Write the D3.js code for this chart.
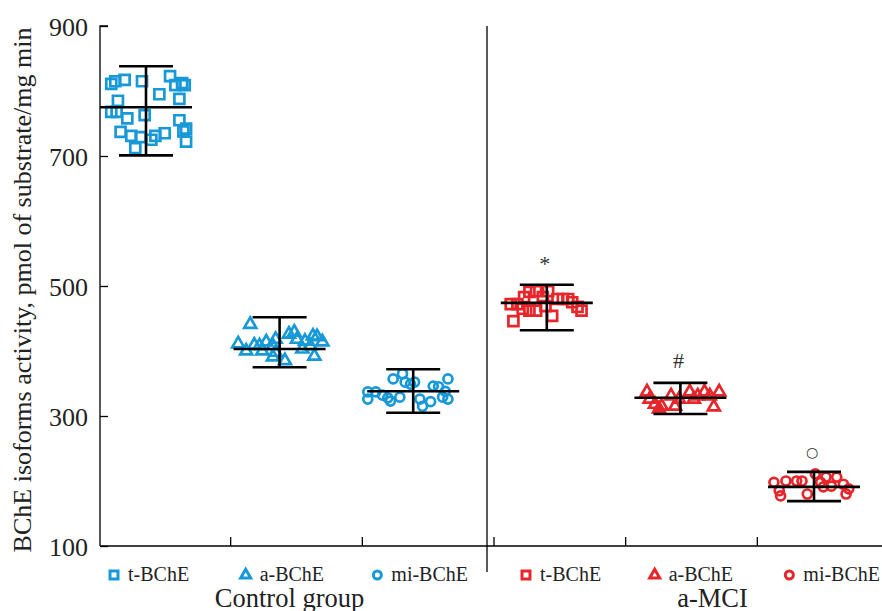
<!DOCTYPE html>
<html><head><meta charset="utf-8">
<script src="https://cdn.jsdelivr.net/npm/d3@7"></script>
<style>body{margin:0;background:#fff}svg{display:block}</style>
</head><body>
<script>
// ---- data ----
const categories = ["t-BChE","a-BChE","mi-BChE","t-BChE","a-BChE","mi-BChE"];
const panels = ["Control group","a-MCI"];
const panelOf = [0,0,0,1,1,1];
const shapes = ["square","triangle","circle","square","triangle","circle"];
const yTicks = [100,300,500,700,900];
const means = [775,403,338,474,328,191];
const errLower = [701,375,305,432,303,169];
const errUpper = [838,452,372,502,351,214];
const annotations = ["","","","*","#","○"];
const annotationValues = [null,null,null,543,386,245];

const ctrlT = [811,815,817,815,823,809,812,809,795,788,785,768,768,758,763,755,742,738,737,731,729,731,735,725,722,712];
const ctrlTJit = [-0.26,-0.23,-0.16,-0.03,0.18,0.22,0.27,0.29,0.10,0.25,-0.21,-0.26,-0.22,-0.14,-0.01,0.25,0.30,0.28,-0.19,-0.11,-0.04,0.07,0.14,0.04,0.30,-0.08];
const ctrlA = [441,411,409,408,414,408,418,426,429,418,415,423,422,414,392,391,385,400,403,400,398,408];
const ctrlAJit = [-0.22,-0.31,-0.19,-0.15,-0.10,-0.05,-0.03,0.07,0.11,0.13,0.19,0.25,0.28,0.32,0.26,-0.05,0.04,-0.25,0.17,-0.13,-0.03,0.23];
const ctrlMi = [365,357,352,352,349,337,337,332,326,328,323,329,326,315,322,346,345,357,338,329,326];
const ctrlMiJit = [-0.08,-0.15,-0.06,0.01,-0.02,-0.34,-0.28,-0.23,-0.34,-0.19,-0.17,-0.10,0.05,0.07,0.13,0.15,0.19,0.26,0.24,0.22,0.26];
const mciT = [446,472,472,483,491,492,462,462,469,492,454,480,480,480,475,468,462,465,483];
const mciTJit = [-0.25,-0.27,-0.22,-0.17,-0.13,-0.08,-0.13,-0.08,-0.01,0.01,0.04,0.08,0.12,0.16,0.19,0.23,0.26,-0.18,-0.03];
const mciA = [337,326,318,311,315,331,315,326,337,326,331,337,314,337,331];
const mciAJit = [-0.25,-0.23,-0.19,-0.16,-0.14,-0.07,-0.04,-0.01,0.07,0.10,0.13,0.18,0.25,0.29,0.22];
const mciMi = [198,185,177,200,200,200,180,211,198,206,192,206,195,180,188,191];
const mciMiJit = [-0.30,-0.26,-0.25,-0.21,-0.13,-0.09,-0.05,0.01,0.05,0.09,0.13,0.17,0.22,0.24,0.26,0.07];

const seriesValues = [ctrlT, ctrlA, ctrlMi, mciT, mciA, mciMi];
const seriesJitter = [ctrlTJit, ctrlAJit, ctrlMiJit, mciTJit, mciAJit, mciMiJit];

// ---- styles ----
const W = 882, H = 611;
const panelColors = ["#1799d8","#e6262b"];
const FONT = "'Liberation Serif','Times New Roman',serif";

const svg = d3.select("body").append("svg").attr("width",W).attr("height",H)
  .style("font-family",FONT);

const y = d3.scaleLinear().domain([100,900]).range([546,26]);
const xBand = d3.scaleBand().domain(d3.range(6)).range([99,889]);
const xC = d3.scaleLinear().domain([0,5]).range([146,814]);

// y axis
const yAxis = d3.axisRight(y).tickValues(yTicks).tickSize(8).tickFormat(d3.format("d"));
const gy = svg.append("g").attr("transform","translate(100,0)").call(yAxis);
gy.select(".domain").attr("stroke","#000").attr("stroke-width",1.3).attr("d",`M8,${y(900)}H0V${y(100)}`);
gy.selectAll(".tick line").attr("stroke","#000").attr("stroke-width",1.3);
gy.selectAll(".tick text").attr("x",-12).attr("text-anchor","end").attr("dy","0.36em")
  .style("font-size","26px").style("font-family",FONT).attr("fill","#222");

// x axis
svg.append("line").attr("x1",100).attr("x2",W).attr("y1",y(100)).attr("y2",y(100))
  .attr("stroke","#000").attr("stroke-width",1.3);
svg.selectAll("line.xt").data(d3.range(1,6)).join("line").attr("class","xt")
  .attr("x1",d=>xBand(d)).attr("x2",d=>xBand(d))
  .attr("y1",y(100)).attr("y2",y(100)-9).attr("stroke","#000").attr("stroke-width",1.3);
// panel separator
svg.append("line").attr("x1",xBand(3)-7).attr("x2",xBand(3)-7).attr("y1",y(900)).attr("y2",572)
  .attr("stroke","#000").attr("stroke-width",1.3);

// y title
svg.append("text").attr("transform",`translate(31,${(y(900)+y(100))/2+4}) rotate(-90)`)
  .attr("text-anchor","middle").style("font-size","26px").attr("fill","#222")
  .text("BChE isoforms activity, pmol of substrate/mg min");

function symbolPath(shape, s){
  if(shape==="square") return d3.symbol(d3.symbolSquare, s*s)();
  if(shape==="triangle") return d3.symbol(d3.symbolTriangle, Math.sqrt(3)/4*s*s)();
  return null;
}
function drawMarker(g, shape, cx, cy, color, s, sw){
  if(shape==="circle"){
    g.append("circle").attr("cx",cx).attr("cy",cy).attr("r",s/2)
      .attr("fill","none").attr("stroke",color).attr("stroke-width",sw);
  } else {
    g.append("path").attr("d",symbolPath(shape,s)).attr("transform",`translate(${cx},${cy})`)
      .attr("fill","none").attr("stroke",color).attr("stroke-width",sw).attr("stroke-linejoin","miter");
  }
}

// points
const gp = svg.append("g");
seriesValues.forEach((vals,i)=>{
  const color = panelColors[panelOf[i]];
  vals.forEach((v,j)=>{
    const sz = shapes[i]==="triangle"?12:(shapes[i]==="circle"?9:10);
    drawMarker(gp, shapes[i], xC(i+seriesJitter[i][j]), y(v), color, sz, 2.7);
  });
});

// error bars
const ge = svg.append("g").attr("stroke","#000").attr("stroke-width",2.6);
d3.range(6).forEach(i=>{
  const cx = xC(i);
  ge.append("line").attr("x1",cx).attr("x2",cx).attr("y1",y(errLower[i])).attr("y2",y(errUpper[i]));
  ge.append("line").attr("x1",cx-27).attr("x2",cx+27).attr("y1",y(errLower[i])).attr("y2",y(errLower[i]));
  ge.append("line").attr("x1",cx-27).attr("x2",cx+27).attr("y1",y(errUpper[i])).attr("y2",y(errUpper[i]));
  ge.append("line").attr("x1",cx-46).attr("x2",cx+46).attr("y1",y(means[i])).attr("y2",y(means[i]));
});

// annotations
d3.range(6).forEach(i=>{
  if(!annotations[i]) return;
  const a = annotations[i];
  svg.append("text").attr("x",xC(i)-2).attr("y",y(annotationValues[i]))
    .attr("text-anchor","middle").attr("dy", a==="*"?"0.6em":"0.35em")
    .style("font-size", a==="○"?"14px":"22px").attr("fill","#333")
    .style("font-family", a==="○"?"'DejaVu Sans',sans-serif":FONT)
    .text(a);
});

// legend
const legendOffset = [11,11,11,28,25,28];
d3.range(6).forEach(i=>{
  const color = panelColors[panelOf[i]];
  const mx = xBand(i)+legendOffset[i]+4;
  const s = shapes[i]==="triangle"?10:8;
  drawMarker(svg, shapes[i], mx, 575, color, s, 3);
  svg.append("text").attr("x",mx+14).attr("y",580.5).style("font-size","20px").attr("fill","#222")
    .text(categories[i]);
});

// panel labels
const panelShift = [-7, 21];
panels.forEach((p,k)=>{
  const first = k*3, last = k*3+2;
  const cx = (xBand(first)+xBand(last)+xBand.bandwidth())/2 + panelShift[k];
  svg.append("text").attr("x",cx).attr("y",606.5).attr("text-anchor","middle")
    .style("font-size","26.5px").attr("fill","#222").text(p);
});
</script>
</body></html>
